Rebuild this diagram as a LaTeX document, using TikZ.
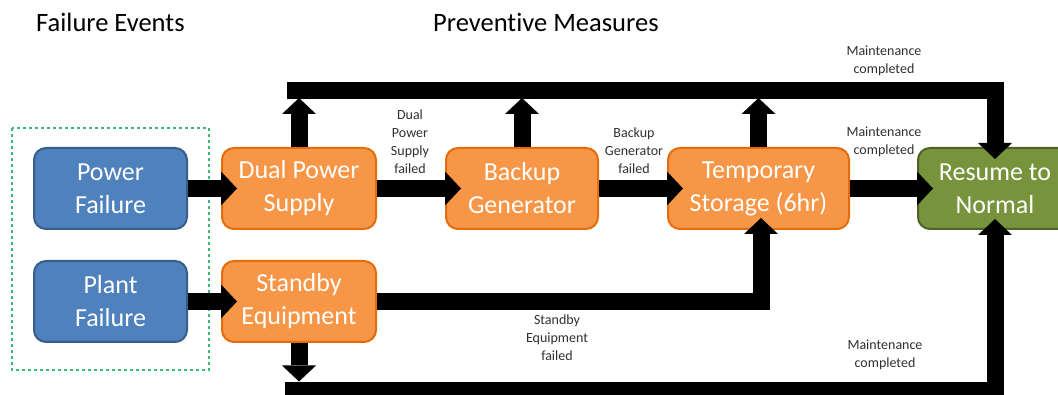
\documentclass[tikz,border=0pt]{standalone}
\usepackage{fontspec}
\setmainfont{Carlito}[Ligatures=NoCommon]
\usetikzlibrary{arrows.meta,calc}

\definecolor{blueFill}{HTML}{4F81BD}
\definecolor{blueLine}{HTML}{385D8A}
\definecolor{orangeFill}{HTML}{F79646}
\definecolor{orangeLine}{HTML}{E46C0A}
\definecolor{greenFill}{HTML}{77933C}
\definecolor{greenLine}{HTML}{4F6228}
\definecolor{groupLine}{HTML}{3CB878}
\definecolor{noteText}{HTML}{303030}

\begin{document}
\begin{tikzpicture}[x=1pt,y=-1pt,
  box/.style={rounded corners=12pt, line width=2pt, minimum height=81pt,
    inner sep=0pt, align=center, text=white,
    font=\fontsize{26}{33}\selectfont},
  eventbox/.style={box, fill=blueFill, draw=blueLine, minimum width=153pt},
  measurebox/.style={box, fill=orangeFill, draw=orangeLine},
  resultbox/.style={box, fill=greenFill, draw=greenLine, minimum width=154pt},
  flow/.style={line width=17pt,
    -{Triangle[length=16pt,width=34pt,line width=0pt]}},
  note/.style={font=\fontsize{14}{18}\selectfont, align=center,
    text=noteText, inner sep=0pt},
  heading/.style={font=\fontsize{26.5}{33}\selectfont, anchor=base west,
    inner sep=0pt},
  groupframe/.style={draw=groupLine, line width=1.3pt,
    dash pattern=on 3pt off 3pt}
]
\useasboundingbox (0,0) rectangle (1058,395);
\clip (0,0) rectangle (1058,395);
\fill[white] (0,0) rectangle (1058,395);

% column headings
\node[heading] (hfail) at (36,32) {Failure Events};
\node[heading] (hprev) at (433,32) {Preventive Measures};

% grouping frame around the failure events
\draw[groupframe] (12,128) rectangle (209,370);

% failure events
\node[eventbox] (pf)  at (110.5,188.5) {Power\\Failure};
\node[eventbox] (plf) at (110.5,301.5) {Plant\\Failure};

% preventive measures
\node[measurebox, minimum width=154pt] (dps) at (299,188.5) {Dual Power\\Supply};
\node[measurebox, minimum width=154pt] (se)  at (299,301.5) {Standby\\Equipment};
\node[measurebox, minimum width=152pt] (bg)  at (522,188.5) {Backup\\Generator};
\node[measurebox, minimum width=181pt] (ts)  at (758.5,188.5) {Temporary\\Storage (6hr)};

% outcome
\node[resultbox] (res) at (995,188.5) {Resume to\\Normal};

% return lines
\coordinate (topL) at (287,91);
\coordinate (botL) at (285,390.5);

% main failure chain
\draw[flow] (pf.east)  -- ($(dps.west)+(16,0)$);
\draw[flow] (plf.east) -- ($(se.west)+(16,0)$);
\draw[flow] (dps.east) -- ($(bg.west)+(16,0)$);
\draw[flow] (bg.east)  -- ($(ts.west)+(16,0)$);
\draw[flow] (ts.east)  -- ($(res.west)+(16,0)$);
\draw[flow] (se.east)  -| ($(ts.south)+(2.5,-12)$);

% maintenance completed: up to the top line, then back to normal
\draw[flow] (dps.north) -- ($(dps.north |- topL)+(0,7)$);
\draw[flow] (bg.north)  -- ($(bg.north |- topL)+(0,7)$);
\draw[flow] (ts.north)  -- ($(ts.north |- topL)+(0,7)$);
\draw[flow] (topL) -| ($(res.north)+(0,12)$);

% maintenance completed: standby path along the bottom line
\draw[flow] (se.south) -- ($(se.south |- botL)+(0,-9)$);
\draw[flow] (botL) -| ($(res.south)+(0,-11)$);

% connector labels
\node[note] (ldps) at (410,142) {Dual\\Power\\Supply\\failed};
\node[note] (lbg)  at (634,151) {Backup\\Generator\\failed};
\node[note] (lse)  at (557,338) {Standby\\Equipment\\failed};
\node[note] (lm1)  at (884,61)  {Maintenance\\completed};
\node[note] (lm2)  at (884,142) {Maintenance\\completed};
\node[note] (lm3)  at (885,355) {Maintenance\\completed};
\end{tikzpicture}
\end{document}
